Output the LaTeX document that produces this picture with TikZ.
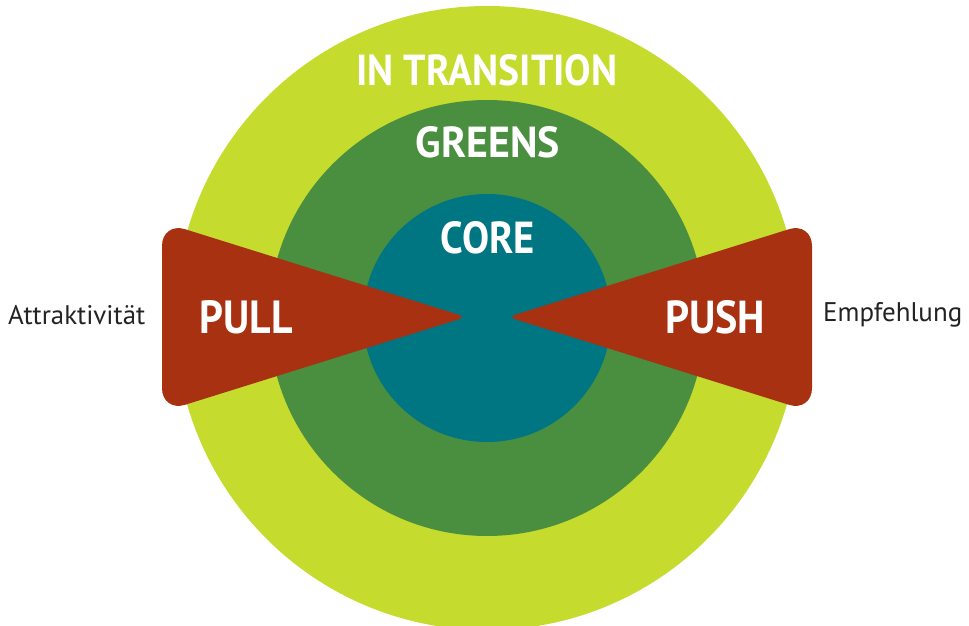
\documentclass[tikz,border=0pt]{standalone}
\usepackage{fontspec}
\usepackage{graphicx}
\setmainfont{PT Sans}
\definecolor{ringlight}{HTML}{C5DB2E}
\definecolor{ringmid}{HTML}{4A8F40}
\definecolor{ringcore}{HTML}{007682}
\definecolor{wedgered}{HTML}{A83112}
\definecolor{labelgray}{HTML}{232323}
% scale a bold caption to a given width and cap height
\newcommand{\fitcaption}[3]{\resizebox{#1}{#2}{\bfseries #3}}
% scale a plain side label to a given width
\newcommand{\fitside}[2]{\resizebox{#1}{!}{#2}}
\tikzset{
  ringlabel/.style={text=white, inner sep=0pt, anchor=center},
  sidelabel/.style={text=labelgray, inner sep=0pt, anchor=west},
  wedge/.style={fill=wedgered}
}
\begin{document}
\begin{tikzpicture}[x=1pt, y=-1pt]
  \useasboundingbox (0,0) rectangle (969,626);
  \clip (0,0) rectangle (969,626);
  % three concentric rings
  \coordinate (c) at (487,318);
  \fill[ringlight] (c) circle[radius=312pt];
  \fill[ringmid]   (c) circle[radius=218pt];
  \fill[ringcore]  (c) circle[radius=124pt];
  % pull wedge (left) and push wedge (right)
  \fill[wedge] (162,317) [rounded corners=24pt] -- (162,222)
     [rounded corners=8pt] -- (466,317) [rounded corners=24pt] -- (162,412) -- cycle;
  \fill[wedge] (812,317) [rounded corners=24pt] -- (812,222)
     [rounded corners=8pt] -- (508,317) [rounded corners=24pt] -- (812,412) -- cycle;
  % captions
  \node[ringlabel] (trans) at (487,70)  {\fitcaption{261pt}{31pt}{IN TRANSITION}};
  \node[ringlabel] (greens) at (488,142) {\fitcaption{144pt}{31pt}{GREENS}};
  \node[ringlabel] (core) at (488,238) {\fitcaption{94pt}{32pt}{CORE}};
  \node[ringlabel] (pull) at (246,317) {\fitcaption{93pt}{33pt}{PULL}};
  \node[ringlabel] (push) at (715,317) {\fitcaption{100pt}{33pt}{PUSH}};
  \node[sidelabel] (attr) at (8,315) {\fitside{137pt}{Attraktivität}};
  \node[sidelabel] (empf) at (823,315) {\fitside{139pt}{Empfehlung}};
\end{tikzpicture}
\end{document}
